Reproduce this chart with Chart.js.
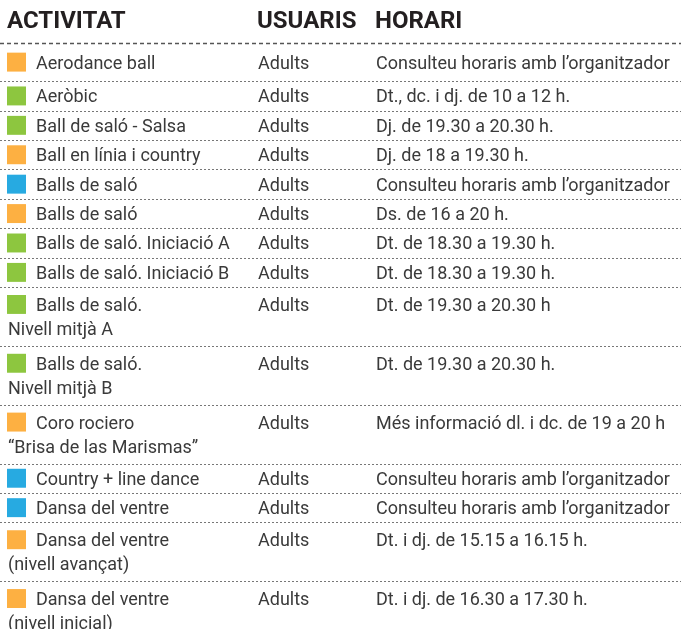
<!DOCTYPE html>
<html>
<head>
<meta charset="utf-8">
<script src="https://cdn.jsdelivr.net/npm/chart.js@4.4.1/dist/chart.umd.min.js"></script>
<style>
	html, body { margin: 0; padding: 0; background: #fff; overflow: hidden; }
	canvas { display: block; }
</style>
</head>
<body>
<canvas id="table-chart" width="681" height="640"></canvas>
<script>
// Table data
var headers = ["ACTIVITAT", "USUARIS", "HORARI"];

var activities = [
	["Aerodance ball"],
	["Aeròbic"],
	["Ball de saló - Salsa"],
	["Ball en línia i country"],
	["Balls de saló"],
	["Balls de saló"],
	["Balls de saló. Iniciació A"],
	["Balls de saló. Iniciació B"],
	["Balls de saló.", "Nivell mitjà A"],
	["Balls de saló.", "Nivell mitjà B"],
	["Coro rociero", "“Brisa de las Marismas”"],
	["Country + line dance"],
	["Dansa del ventre"],
	["Dansa del ventre", "(nivell avançat)"],
	["Dansa del ventre", "(nivell inicial)"]
];

var users = ["Adults", "Adults", "Adults", "Adults", "Adults", "Adults", "Adults", "Adults",
	"Adults", "Adults", "Adults", "Adults", "Adults", "Adults", "Adults"];

var schedules = [
	"Consulteu horaris amb l’organitzador",
	"Dt., dc. i dj. de 10 a 12 h.",
	"Dj. de 19.30 a 20.30 h.",
	"Dj. de 18 a 19.30 h.",
	"Consulteu horaris amb l’organitzador",
	"Ds. de 16 a 20 h.",
	"Dt. de 18.30 a 19.30 h.",
	"Dt. de 18.30 a 19.30 h.",
	"Dt. de 19.30 a 20.30 h",
	"Dt. de 19.30 a 20.30 h.",
	"Més informació dl. i dc. de 19 a 20 h",
	"Consulteu horaris amb l’organitzador",
	"Consulteu horaris amb l’organitzador",
	"Dt. i dj. de 15.15 a 16.15 h.",
	"Dt. i dj. de 16.30 a 17.30 h."
];

var kinds = ["orange", "green", "green", "orange", "blue", "orange", "green", "green",
	"green", "green", "orange", "blue", "blue", "orange", "orange"];

// Styles / layout
var kindColors = { orange: "#FDB042", green: "#8DC63F", blue: "#27AAE1" };
var colX = { mark: 16.5, activity: 36, wrap: 8, users: 258, schedule: 376 };
var headerX = [8, 258, 376];
var headerGap = 0.3;   // extra space (in line units) under the header rule
var lineStep = 0.82;   // distance between two text lines inside one row
var textFont = "18px Roboto";
var headFont = "bold 24px Roboto";

// Row geometry in line units, derived from the number of text lines
var rowTops = [];
var rowCenters = [];
var totalLines = 0;
for (var i = 0; i < activities.length; i++) {
	var nLines = activities[i].length;
	var rowStart = totalLines === 0 ? -headerGap : totalLines;
	rowTops.push(totalLines);
	rowCenters.push((rowStart + totalLines + nLines) / 2);
	totalLines += nLines;
}

function linePos(i, k) {
	var n = activities[i].length;
	return rowCenters[i] + (k - (n - 1) / 2) * lineStep;
}

var markPoints = [];
var markColors = [];
for (var i = 0; i < activities.length; i++) {
	markPoints.push({ x: colX.mark, y: linePos(i, 0) });
	markColors.push(kindColors[kinds[i]]);
}

// Draws header, rules and cell texts from the y scale
var tablePlugin = {
	id: "tableText",
	beforeDatasetsDraw: function (chart) {
		var ctx = chart.ctx;
		var yScale = chart.scales.y;
		var area = chart.chartArea;
		ctx.save();

		// header
		ctx.fillStyle = "#231f20";
		ctx.font = headFont;
		ctx.textBaseline = "middle";
		ctx.textAlign = "left";
		for (var h = 0; h < headers.length; h++) {
			ctx.fillText(headers[h], headerX[h] - 1, 22);
		}

		// header rule
		ctx.strokeStyle = "#555";
		ctx.lineWidth = 1.5;
		ctx.setLineDash([4, 3]);
		var hy = yScale.getPixelForValue(-headerGap);
		ctx.beginPath();
		ctx.moveTo(area.left, hy + 0.5);
		ctx.lineTo(area.right, hy + 0.5);
		ctx.stroke();

		// row rules
		ctx.strokeStyle = "#777";
		ctx.lineWidth = 1;
		ctx.setLineDash([2, 2]);
		for (var i = 1; i <= rowTops.length; i++) {
			var v = i < rowTops.length ? rowTops[i] : totalLines;
			var py = Math.round(yScale.getPixelForValue(v)) + 0.5;
			ctx.beginPath();
			ctx.moveTo(area.left, py);
			ctx.lineTo(area.right, py);
			ctx.stroke();
		}
		ctx.setLineDash([]);

		// cells
		ctx.fillStyle = "#3a3a3a";
		ctx.font = textFont;
		for (var i = 0; i < activities.length; i++) {
			for (var k = 0; k < activities[i].length; k++) {
				var ty = yScale.getPixelForValue(linePos(i, k)) + 2;
				ctx.fillText(activities[i][k], k === 0 ? colX.activity : colX.wrap, ty);
			}
			var fy = yScale.getPixelForValue(linePos(i, 0)) + 2;
			ctx.fillText(users[i], colX.users, fy);
			ctx.fillText(schedules[i], colX.schedule, fy);
		}
		ctx.restore();
	}
};

var chartData = {
	datasets: [{
		label: "Tipus",
		data: markPoints,
		pointStyle: "rect",
		pointRadius: 13.4,
		pointBackgroundColor: markColors,
		pointBorderWidth: 0,
		showLine: false
	}]
};

var chartOptions = {
	responsive: false,
	animation: false,
	events: [],
	layout: {
		autoPadding: false,
		padding: { top: 43, left: 0, right: 0, bottom: 0 }
	},
	plugins: {
		legend: { display: false },
		tooltip: { enabled: false }
	},
	scales: {
		x: { type: "linear", display: false, min: 0, max: 681 },
		y: { type: "linear", display: false, reverse: true, min: -headerGap, max: totalLines }
	}
};

var config = {
	type: "scatter",
	data: chartData,
	options: chartOptions,
	plugins: [tablePlugin]
};

// Create the chart
var tableChart = new Chart(document.getElementById("table-chart"), config);
</script>
</body>
</html>
